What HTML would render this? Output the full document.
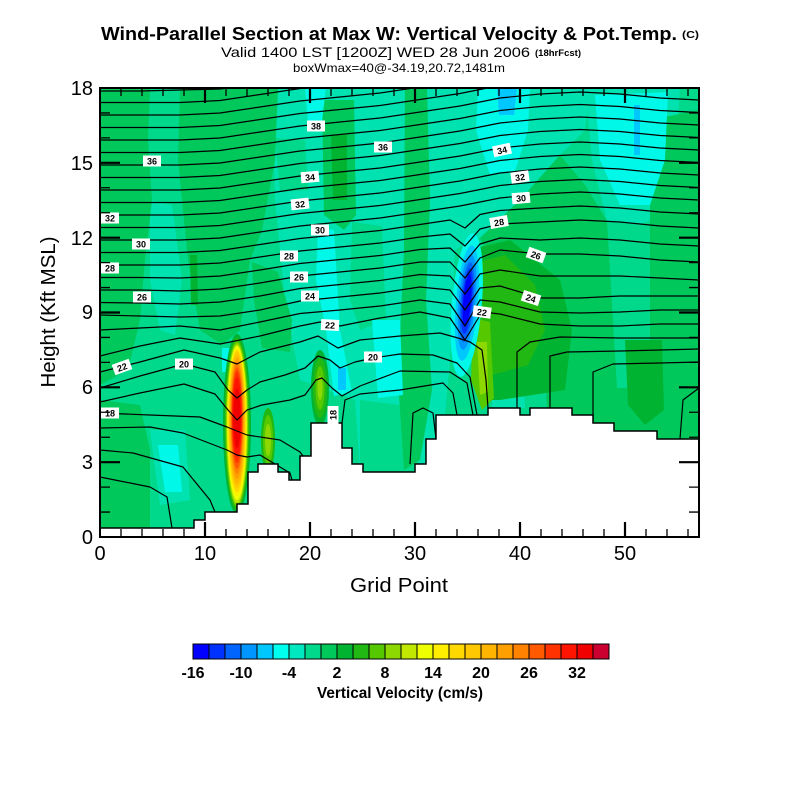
<!DOCTYPE html>
<html><head><meta charset="utf-8"><style>
html,body{margin:0;padding:0;background:#fff;}
svg{display:block;}
text{font-family:"Liberation Sans",Arial,sans-serif;fill:#000;}
</style></head><body>
<svg width="800" height="800" viewBox="0 0 800 800" xmlns="http://www.w3.org/2000/svg">
<defs><clipPath id="pc"><rect x="100" y="88" width="599" height="449"/></clipPath></defs>
<rect width="800" height="800" fill="#fff"/>
<!-- titles -->
<text x="101" y="40" font-size="18" font-weight="bold" textLength="576" lengthAdjust="spacingAndGlyphs">Wind-Parallel Section at Max W: Vertical Velocity &amp; Pot.Temp.</text>
<text x="682" y="38" font-size="10" font-weight="bold" textLength="17" lengthAdjust="spacingAndGlyphs">(C)</text>
<text x="221" y="57" font-size="14" textLength="309" lengthAdjust="spacingAndGlyphs">Valid 1400 LST [1200Z] WED 28 Jun 2006</text>
<text x="535" y="56" font-size="9" font-weight="bold" textLength="46" lengthAdjust="spacingAndGlyphs">(18hrFcst)</text>
<text x="293" y="72" font-size="12" textLength="212" lengthAdjust="spacingAndGlyphs">boxWmax=40@-34.19,20.72,1481m</text>

<g clip-path="url(#pc)">
<rect x="100" y="88" width="599" height="449" fill="#00d98c"/>
<!-- light (-4..-2) broad regions -->
<g fill="#00e2b0">
<path d="M273,88 L472,88 L472,240 L455,250 L450,360 L440,470 L360,470 L355,400 L300,380 L285,300 L275,200 Z"/>
<path d="M470,88 L590,88 L585,130 L560,155 L520,200 L480,238 L470,238 Z"/>
<path d="M585,88 L680,88 L672,210 L640,225 L607,221 L592,160 Z"/>
<path d="M150,200 L172,205 L182,280 L175,335 L160,330 L150,280 Z"/>
<path d="M150,430 L185,430 L190,500 L160,505 Z"/>
<path d="M492,340 L522,345 L525,408 L492,408 Z"/>
<path d="M680,385 L699,380 L699,440 L680,440 Z"/>
</g>
<!-- mint patches inside light area -->
<g fill="#00d98c">
<path d="M275,138 L305,140 L308,190 L280,192 Z"/>
<path d="M352,222 L382,226 L386,320 L360,330 L350,300 Z"/>
<path d="M360,400 L400,405 L420,470 L360,470 Z"/>
</g>
<!-- green (0..2) -->
<g fill="#00c85a">
<path d="M100,88 L150,88 L148,140 L152,200 L145,260 L140,320 L128,370 L100,385 Z"/>
<path d="M100,400 L140,405 L150,450 L150,528 L100,528 Z"/>
<path d="M180,88 L278,88 L275,160 L262,230 L250,260 L240,330 L222,345 L200,330 L188,260 L178,160 Z"/>
<path d="M252,262 L278,272 L292,320 L290,352 L262,348 L254,300 Z"/>
<path d="M322,100 L354,100 L356,215 L344,230 L324,215 Z"/>
<path d="M405,88 L427,88 L430,200 L426,300 L432,390 L420,460 L404,470 L398,380 L404,250 Z"/>
<path d="M480,238 L520,200 L560,155 L585,185 L607,221 L617,388 L650,388 L650,120 L699,110 L699,440 L548,440 L545,360 L510,300 Z"/>
</g>
<g fill="#00b432">
<path d="M190,255 L197,255 L198,305 L191,305 Z"/>
<path d="M331,135 L347,135 L347,200 L333,200 Z"/>
<path d="M625,340 L662,340 L664,410 L645,425 L628,405 Z"/>
</g>
<!-- cyan (-6..-4) -->
<g fill="#00f8e8">
<path d="M305,88 L326,88 L322,121 L308,121 Z"/>
<path d="M318,228 L334,230 L340,330 L352,392 L334,396 L326,330 L316,280 Z"/>
<path d="M372,320 L400,320 L403,395 L378,398 Z"/>
<path d="M478,88 L530,88 L528,130 L515,171 L490,175 L476,130 Z"/>
<path d="M595,95 L668,92 L665,160 L650,205 L620,205 L600,160 Z"/>
<path d="M158,445 L178,445 L182,492 L165,492 Z"/>
<path d="M222,348 L231,348 L231,372 L222,372 Z"/>
</g>
<g fill="#00c8ff">
<path d="M497,88 L517,88 L514,115 L499,115 Z"/>
<path d="M634,105 L640,105 L640,155 L634,155 Z"/>
<path d="M338,368 L346,368 L346,390 L338,390 Z"/>
</g>
<!-- green region right of spike -->
<path d="M476,248 L510,240 L560,280 L572,330 L565,390 L500,400 L478,400 Z" fill="#00b432"/>
<path d="M478,262 L505,255 L535,285 L545,330 L528,365 L492,375 L478,340 Z" fill="#22b814"/>
<path d="M473,318 L490,322 L494,398 L482,410 L471,380 Z" fill="#55c800"/>
<path d="M477,342 L487,342 L488,392 L480,395 Z" fill="#8cd800"/>
<!-- blue spike -->
<g transform="rotate(5 467 302)">
<ellipse cx="467" cy="305" rx="15" ry="72" fill="#00f8e8"/>
<ellipse cx="467" cy="303" rx="11" ry="58" fill="#00c8ff"/>
<ellipse cx="467" cy="302" rx="8.5" ry="48" fill="#0096ff"/>
<ellipse cx="467" cy="302" rx="6.5" ry="40" fill="#0064ff"/>
<ellipse cx="467" cy="301" rx="5" ry="33" fill="#0032ff"/>
<ellipse cx="467" cy="300" rx="3.8" ry="26" fill="#0000ff"/>
</g>
<!-- secondary plumes -->
<ellipse cx="268" cy="440" rx="7" ry="32" fill="#22b814"/>
<ellipse cx="268" cy="440" rx="5" ry="25" fill="#55c800"/>
<ellipse cx="268" cy="440" rx="3" ry="16" fill="#8cd800"/>
<ellipse cx="320" cy="388" rx="9" ry="38" fill="#00b432"/>
<ellipse cx="320" cy="388" rx="7" ry="30" fill="#22b814"/>
<ellipse cx="320" cy="388" rx="4.5" ry="22" fill="#55c800"/>
<ellipse cx="320" cy="388" rx="2.5" ry="12" fill="#8cd800"/>
<!-- main updraft plume -->
<ellipse cx="237" cy="424" rx="14" ry="90" fill="#00b432"/>
<ellipse cx="237" cy="424" rx="12.5" ry="86" fill="#22b814"/>
<ellipse cx="237" cy="424" rx="11.5" ry="83" fill="#55c800"/>
<ellipse cx="237" cy="424" rx="10.8" ry="81" fill="#8cd800"/>
<ellipse cx="237" cy="424" rx="10.2" ry="79" fill="#c0e800"/>
<ellipse cx="237" cy="423" rx="9.7" ry="77" fill="#eeff00"/>
<ellipse cx="237" cy="422" rx="9.2" ry="74" fill="#ffee00"/>
<ellipse cx="237" cy="421" rx="8.7" ry="71" fill="#ffd800"/>
<ellipse cx="237" cy="420" rx="8.1" ry="68" fill="#ffc800"/>
<ellipse cx="237" cy="420" rx="7.5" ry="64" fill="#ffb400"/>
<ellipse cx="237" cy="419" rx="6.9" ry="60" fill="#ffa000"/>
<ellipse cx="237" cy="418" rx="6.3" ry="56" fill="#ff8200"/>
<ellipse cx="237" cy="418" rx="5.7" ry="51" fill="#ff5a00"/>
<ellipse cx="237" cy="417" rx="5.1" ry="46" fill="#ff3200"/>
<ellipse cx="237" cy="417" rx="4.5" ry="40" fill="#ff1400"/>
<ellipse cx="237" cy="418" rx="3.6" ry="30" fill="#f00000"/>

<!-- contour lines -->
<g fill="none" stroke="#000" stroke-width="1.2" stroke-linejoin="round">
<polyline points="100,91 140,91 180,90 220,89 260,84 300,78"/>
<polyline points="100,102.5 140,102.5 180,102.5 220,100.5 260,94.5 300,88.5 340,84.5"/>
<polyline points="100,115 140,115 180,115 220,113 260,107 300,101 340,97 380,93 420,87 460,81"/>
<polyline points="100,127.5 140,127.5 180,127.5 220,125.5 260,119.5 300,113.5 340,109.5 380,105.5 420,99.5 460,93.5 480,89.5 500,85.5 540,81.5 580,79.5 620,81.5 660,85.5 699,87.5"/>
<polyline points="100,140 140,140 180,140 220,138 260,132 300,126 340,122 380,118 420,112 460,106 480,102 500,98 540,94 580,92 620,94 660,98 699,100"/>
<polyline points="100,152.5 140,152.5 180,152.5 220,150.5 260,144.5 300,138.5 340,134.5 380,130.5 420,124.5 460,118.5 480,114.5 500,110.5 540,106.5 580,104.5 620,106.5 660,110.5 699,112.5"/>
<polyline points="100,165 140,165 180,165 220,163 260,157 300,151 340,147 380,143 420,137 460,131 480,127 500,123 540,119 580,117 620,119 660,123 699,125"/>
<polyline points="100,177.5 140,177.5 180,177.5 220,175.5 260,169.5 300,163.5 340,159.5 380,155.5 420,149.5 460,143.5 480,139.5 500,135.5 540,131.5 580,129.5 620,131.5 660,135.5 699,137.5"/>
<polyline points="100,190 140,190 180,190 220,188 260,182 300,176 340,172 380,168 420,162 460,156 480,152 500,148 540,144 580,142 620,144 660,148 699,150"/>
<polyline points="100,202.5 140,202.5 180,202.5 220,200.5 260,194.5 300,188.5 340,184.5 380,180.5 420,174.5 460,168.5 480,164.5 500,160.5 540,156.5 580,154.5 620,156.5 660,160.5 699,162.5"/>
<polyline points="100,215 140,215 180,215 220,213 260,207 300,201 340,197 380,193 420,187 460,181 480,177 500,173 540,169 580,167 620,169 660,173 699,175"/>
<polyline points="100,227.5 140,227.5 180,227.5 220,225.5 260,219.5 300,213.5 340,209.5 380,205.5 420,199.5 460,193.5 480,189.5 500,185.5 540,181.5 580,179.5 620,181.5 660,185.5 699,187.5"/>
<polyline points="100,240 140,240 180,240 220,238 260,232 300,226 340,222 380,218 420,212 460,206 480,202 500,198 540,194 580,192 620,194 660,198 699,200"/>
<polyline points="100,252.5 140,252.5 180,252.5 220,250.5 260,244.5 300,238.5 340,234.5 380,230.5 420,224.5 450,220 465,228 480,214.5 500,210.5 540,208 580,206 620,208 660,212 699,214"/>
<polyline points="100,265 140,265 180,265 220,263 260,257 300,251 340,247 380,243 420,237 450,234 465,246 480,229 500,224 540,222 580,220 620,222 660,226 699,228"/>
<polyline points="100,277.5 140,277.5 180,278 220,276 260,270 300,263.5 340,259.5 380,255.5 420,249.5 450,248 465,262 480,244 500,238 540,240 580,238 620,240 660,244 699,246"/>
<polyline points="100,290 140,290 180,291 220,289 260,283 300,276 340,272 380,268 420,262 450,262 465,278 480,258 500,250 540,254 580,254 620,256 660,260 699,262"/>
<polyline points="100,302.5 140,303 180,304 220,302 260,296 300,288.5 340,284.5 380,280.5 420,274.5 450,276 465,294 480,274 500,270 540,276 580,276 620,276 660,278 699,280"/>
<polyline points="100,315 140,316 180,317 220,316 260,310 300,301 340,297 380,293 420,287 450,290 465,310 480,288 500,286 540,298 580,298 620,296 660,296 699,296"/>
<polyline points="100,330 140,328 180,326 220,330 260,322 300,313.5 340,310 380,306 420,300 450,304 465,326 480,300 500,302 540,312 580,313 620,312 660,310 699,310"/>
<polyline points="100,356 140,346 180,338 220,344 260,336 300,326 320,322 340,326 380,318 420,312 450,318 465,340 482,312 500,314 540,324 580,326 620,326 660,324 699,324"/>
<polyline points="100,372 140,362 184,350 220,358 237,364 260,352 300,342 318,336 338,348 360,340 400,336 440,333 458,338 470,342 482,350 486,380 488,408"/>
<polyline points="517,408 517,352 530,342 560,337 620,338 660,338 699,338"/>
<polyline points="100,388 140,376 184,364 215,372 228,390 237,398 247,390 260,382 285,375 305,368 318,356 330,360 340,368 355,362 373,358 400,354 433,355 457,363 470,377 477,415"/>
<polyline points="550,408 550,356 567,352 620,351 660,350 699,349"/>
<polyline points="100,402 140,393 184,384 215,394 228,410 237,420 247,410 262,405 290,400 305,395 316,380 322,378 332,388 342,396 360,386 400,371 450,372 467,383 473,415"/>
<polyline points="593,423 593,372 613,364 660,363 699,362"/>
<polyline points="100,413 150,415 200,417 227,427 247,435 280,440 300,452 303,456"/>
<polyline points="342,423 345,400 360,394 400,390 443,383 453,393 457,415"/>
<polyline points="680,439 683,400 699,388"/>
<polyline points="100,428 150,427 183,433 227,450 237,455 247,457 260,455 290,473 292,480"/>
<polyline points="410,464 413,413 423,408 433,413 436,439"/>
<polyline points="100,450 133,453 183,467 210,500 215,512"/>
<polyline points="100,477 150,487 167,497 172,528"/>
</g>

<!-- terrain -->
<path d="M100,528 H194 V520 H205 V512 H237 V504 H248 V472 H258 V464 H278 V472 H289 V480 H300 V456 H311 V423 H342 V448 H352 V464 H363 V472 H415 V464 H426 V439 H436 V415 H488 V408 H520 V415 H530 V408 H572 V415 H593 V423 H614 V431 H657 V439 H699 V540 H100 Z" fill="#fff" stroke="#000" stroke-width="1.5"/>
</g>

<!-- contour labels -->
<g font-size="9" font-weight="bold" text-anchor="middle">
<g transform="translate(316,126)"><rect x="-9" y="-5.5" width="18" height="11" fill="#fff"/><text y="3.5">38</text></g>
<g transform="translate(383,147)"><rect x="-9" y="-5.5" width="18" height="11" fill="#fff"/><text y="3.5">36</text></g>
<g transform="translate(152,161)"><rect x="-9" y="-5.5" width="18" height="11" fill="#fff"/><text y="3.5">36</text></g>
<g transform="translate(310,177) rotate(-5)"><rect x="-9" y="-5.5" width="18" height="11" fill="#fff"/><text y="3.5">34</text></g>
<g transform="translate(502,150) rotate(-12)"><rect x="-9" y="-5.5" width="18" height="11" fill="#fff"/><text y="3.5">34</text></g>
<g transform="translate(300,204) rotate(-6)"><rect x="-9" y="-5.5" width="18" height="11" fill="#fff"/><text y="3.5">32</text></g>
<g transform="translate(110,218)"><rect x="-9" y="-5.5" width="18" height="11" fill="#fff"/><text y="3.5">32</text></g>
<g transform="translate(520,177) rotate(-8)"><rect x="-9" y="-5.5" width="18" height="11" fill="#fff"/><text y="3.5">32</text></g>
<g transform="translate(320,230)"><rect x="-9" y="-5.5" width="18" height="11" fill="#fff"/><text y="3.5">30</text></g>
<g transform="translate(141,244)"><rect x="-9" y="-5.5" width="18" height="11" fill="#fff"/><text y="3.5">30</text></g>
<g transform="translate(521,198) rotate(-5)"><rect x="-9" y="-5.5" width="18" height="11" fill="#fff"/><text y="3.5">30</text></g>
<g transform="translate(289,256)"><rect x="-9" y="-5.5" width="18" height="11" fill="#fff"/><text y="3.5">28</text></g>
<g transform="translate(110,268)"><rect x="-9" y="-5.5" width="18" height="11" fill="#fff"/><text y="3.5">28</text></g>
<g transform="translate(499,222) rotate(-10)"><rect x="-9" y="-5.5" width="18" height="11" fill="#fff"/><text y="3.5">28</text></g>
<g transform="translate(299,277)"><rect x="-9" y="-5.5" width="18" height="11" fill="#fff"/><text y="3.5">26</text></g>
<g transform="translate(142,297)"><rect x="-9" y="-5.5" width="18" height="11" fill="#fff"/><text y="3.5">26</text></g>
<g transform="translate(536,255) rotate(20)"><rect x="-9" y="-5.5" width="18" height="11" fill="#fff"/><text y="3.5">26</text></g>
<g transform="translate(310,296)"><rect x="-9" y="-5.5" width="18" height="11" fill="#fff"/><text y="3.5">24</text></g>
<g transform="translate(531,298) rotate(18)"><rect x="-9" y="-5.5" width="18" height="11" fill="#fff"/><text y="3.5">24</text></g>
<g transform="translate(330,325) rotate(3)"><rect x="-9" y="-5.5" width="18" height="11" fill="#fff"/><text y="3.5">22</text></g>
<g transform="translate(482,312) rotate(8)"><rect x="-9" y="-5.5" width="18" height="11" fill="#fff"/><text y="3.5">22</text></g>
<g transform="translate(122,367) rotate(-20)"><rect x="-9" y="-5.5" width="18" height="11" fill="#fff"/><text y="3.5">22</text></g>
<g transform="translate(184,364)"><rect x="-9" y="-5.5" width="18" height="11" fill="#fff"/><text y="3.5">20</text></g>
<g transform="translate(373,357)"><rect x="-9" y="-5.5" width="18" height="11" fill="#fff"/><text y="3.5">20</text></g>
<g transform="translate(110,413)"><rect x="-9" y="-5.5" width="18" height="11" fill="#fff"/><text y="3.5">18</text></g>
<g transform="translate(333,415) rotate(-90)"><rect x="-9" y="-5.5" width="18" height="11" fill="#fff"/><text y="3.5">18</text></g>
</g>

<!-- frame -->
<rect x="100" y="88" width="599" height="449" fill="none" stroke="#000" stroke-width="2"/>
<!-- ticks -->
<g stroke="#000" stroke-width="1.3">
<path d="M121,537v-8M142,537v-8M163,537v-8M184,537v-8M226,537v-8M247,537v-8M268,537v-8M289,537v-8M331,537v-8M352,537v-8M373,537v-8M394,537v-8M436,537v-8M457,537v-8M478,537v-8M499,537v-8M541,537v-8M562,537v-8M583,537v-8M604,537v-8M646,537v-8M667,537v-8M688,537v-8"/>
<path d="M121,88v8M142,88v8M163,88v8M184,88v8M226,88v8M247,88v8M268,88v8M289,88v8M331,88v8M352,88v8M373,88v8M394,88v8M436,88v8M457,88v8M478,88v8M499,88v8M541,88v8M562,88v8M583,88v8M604,88v8M646,88v8M667,88v8M688,88v8"/>
<path d="M100,512.06h10M100,487.11h10M100,437.22h10M100,412.28h10M100,362.39h10M100,337.44h10M100,287.56h10M100,262.61h10M100,212.72h10M100,187.78h10M100,137.89h10M100,112.94h10"/>
<path d="M699,512.06h-10M699,487.11h-10M699,437.22h-10M699,412.28h-10M699,362.39h-10M699,337.44h-10M699,287.56h-10M699,262.61h-10M699,212.72h-10M699,187.78h-10M699,137.89h-10M699,112.94h-10"/>
</g>
<g stroke="#000" stroke-width="2.2">
<path d="M205,537v-15M310,537v-15M415,537v-15M520,537v-15M625,537v-15"/>
<path d="M205,88v15M310,88v15M415,88v15M520,88v15M625,88v15"/>
<path d="M100,462.17h20M100,387.33h20M100,312.5h20M100,237.67h20M100,162.83h20"/>
<path d="M699,462.17h-20M699,387.33h-20M699,312.5h-20M699,237.67h-20M699,162.83h-20"/>
</g>

<!-- axis labels -->
<g font-size="20" text-anchor="end">
<text x="93" y="544">0</text>
<text x="93" y="469">3</text>
<text x="93" y="394">6</text>
<text x="93" y="319">9</text>
<text x="93" y="245">12</text>
<text x="93" y="170">15</text>
<text x="93" y="95">18</text>
</g>
<g font-size="20" text-anchor="middle">
<text x="100" y="560">0</text>
<text x="205" y="560">10</text>
<text x="310" y="560">20</text>
<text x="415" y="560">30</text>
<text x="520" y="560">40</text>
<text x="625" y="560">50</text>
<text x="399" y="592" textLength="98" lengthAdjust="spacingAndGlyphs">Grid Point</text>
<text transform="translate(55,312) rotate(-90)" x="0" y="0" textLength="151" lengthAdjust="spacingAndGlyphs">Height (Kft MSL)</text>
</g>

<!-- colorbar -->
<g stroke="#000" stroke-width="1">
<rect x="193" y="644" width="16" height="15" fill="#0000ff"/>
<rect x="209" y="644" width="16" height="15" fill="#0032ff"/>
<rect x="225" y="644" width="16" height="15" fill="#0064ff"/>
<rect x="241" y="644" width="16" height="15" fill="#0096ff"/>
<rect x="257" y="644" width="16" height="15" fill="#00c8ff"/>
<rect x="273" y="644" width="16" height="15" fill="#00ffee"/>
<rect x="289" y="644" width="16" height="15" fill="#00e8c0"/>
<rect x="305" y="644" width="16" height="15" fill="#00d98c"/>
<rect x="321" y="644" width="16" height="15" fill="#00c85a"/>
<rect x="337" y="644" width="16" height="15" fill="#00b432"/>
<rect x="353" y="644" width="16" height="15" fill="#22b814"/>
<rect x="369" y="644" width="16" height="15" fill="#55c800"/>
<rect x="385" y="644" width="16" height="15" fill="#8cd800"/>
<rect x="401" y="644" width="16" height="15" fill="#c0e800"/>
<rect x="417" y="644" width="16" height="15" fill="#eeff00"/>
<rect x="433" y="644" width="16" height="15" fill="#ffee00"/>
<rect x="449" y="644" width="16" height="15" fill="#ffd800"/>
<rect x="465" y="644" width="16" height="15" fill="#ffc800"/>
<rect x="481" y="644" width="16" height="15" fill="#ffb400"/>
<rect x="497" y="644" width="16" height="15" fill="#ffa000"/>
<rect x="513" y="644" width="16" height="15" fill="#ff8200"/>
<rect x="529" y="644" width="16" height="15" fill="#ff5a00"/>
<rect x="545" y="644" width="16" height="15" fill="#ff3200"/>
<rect x="561" y="644" width="16" height="15" fill="#ff1400"/>
<rect x="577" y="644" width="16" height="15" fill="#f00000"/>
<rect x="593" y="644" width="16" height="15" fill="#cc0030"/>
</g>
<g font-size="16" font-weight="bold" text-anchor="middle">
<text x="193" y="678">-16</text>
<text x="241" y="678">-10</text>
<text x="289" y="678">-4</text>
<text x="337" y="678">2</text>
<text x="385" y="678">8</text>
<text x="433" y="678">14</text>
<text x="481" y="678">20</text>
<text x="529" y="678">26</text>
<text x="577" y="678">32</text>
<text x="400" y="698" textLength="166" lengthAdjust="spacingAndGlyphs">Vertical Velocity (cm/s)</text>
</g>
</svg>
</body></html>
